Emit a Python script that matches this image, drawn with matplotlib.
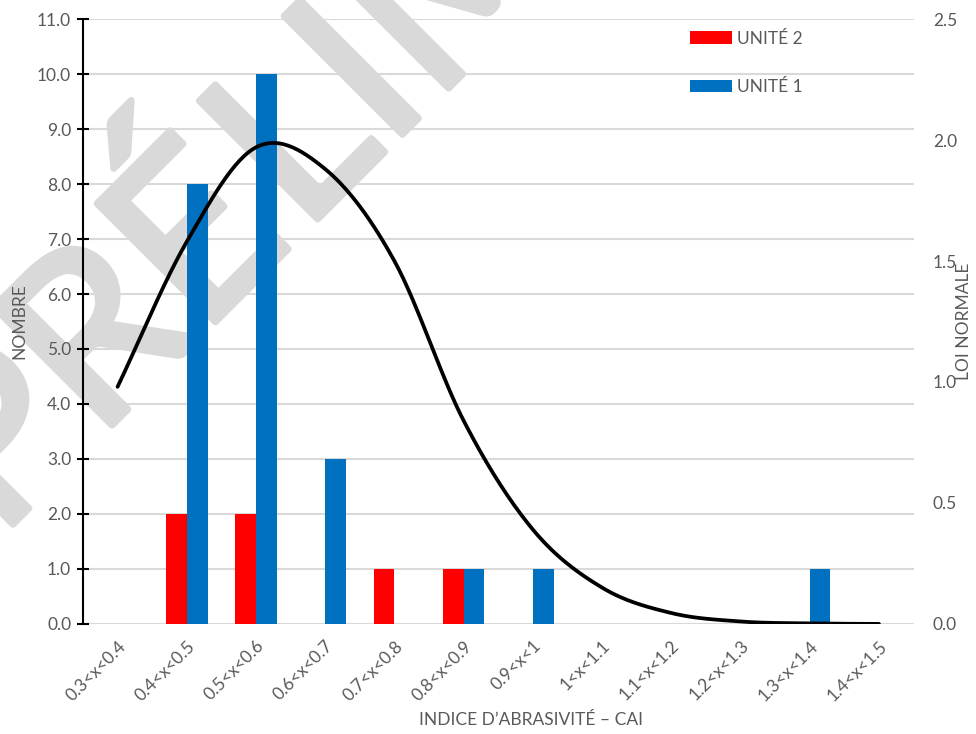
"""
Histogramme de l'indice d'abrasivité (CAI) par unité, avec la loi normale
ajustée sur l'axe secondaire.
"""

import matplotlib
matplotlib.use('Agg')
import matplotlib.pyplot as plt
import matplotlib.patheffects as pe
import numpy as np

plt.rcParams['font.family'] = ['Lato', 'DejaVu Sans']

# classes de l'indice CAI
categories = [
    '0.3<x<0.4', '0.4<x<0.5', '0.5<x<0.6', '0.6<x<0.7', '0.7<x<0.8',
    '0.8<x<0.9', '0.9<x<1', '1<x<1.1', '1.1<x<1.2', '1.2<x<1.3',
    '1.3<x<1.4', '1.4<x<1.5'
]
unite_2 = [0, 2, 2, 0, 1, 1, 0, 0, 0, 0, 0, 0]
unite_1 = [0, 8, 10, 3, 0, 1, 1, 0, 0, 0, 1, 0]
loi_normale = [0.98, 1.58, 1.97, 1.88, 1.50, 0.84, 0.39, 0.15, 0.045,
               0.01, 0.002, 0.0]

left_ticks = np.arange(0, 11.5, 1.0)
right_ticks = np.arange(0, 2.75, 0.5)

GRAY_TXT = '#595959'
GRID = '#d9d9d9'
FS = 12.5


def catmull_rom(x, y, n=30):
    """Smoothed line through the points, like Excel's smoothed line."""
    x = np.asarray(x, dtype=float)
    y = np.asarray(y, dtype=float)
    px = np.concatenate([[2 * x[0] - x[1]], x, [2 * x[-1] - x[-2]]])
    py = np.concatenate([[2 * y[0] - y[1]], y, [2 * y[-1] - y[-2]]])
    xs, ys = [], []
    t = np.linspace(0, 1, n, endpoint=False)
    for i in range(1, len(px) - 2):
        for p, out in ((px, xs), (py, ys)):
            p0, p1, p2, p3 = p[i - 1], p[i], p[i + 1], p[i + 2]
            out.extend(0.5 * ((2 * p1) + (-p0 + p2) * t
                              + (2 * p0 - 5 * p1 + 4 * p2 - p3) * t ** 2
                              + (-p0 + 3 * p1 - 3 * p2 + p3) * t ** 3))
    xs.append(x[-1])
    ys.append(y[-1])
    return np.array(xs), np.array(ys)


fig = plt.figure(figsize=(9.76, 7.34), dpi=100)

# filigrane, en deux morceaux pour caler le "L"
wm = dict(fontsize=168, color=GRID, rotation=45, rotation_mode='anchor',
          va='baseline', zorder=0,
          path_effects=[pe.withStroke(linewidth=5, foreground=GRID)])
fig.text(0.303, 0.671, 'PRÉ', ha='right', **wm)
fig.text(0.310, 0.681, 'LIMINAIRE', ha='left', **wm)

ax = fig.add_axes([0.085, 0.150, 0.851, 0.824])
ax.set_facecolor('none')
ax2 = ax.twinx()
ax2.set_facecolor('none')
ax.set_zorder(1)
ax2.set_zorder(2)

x = np.arange(len(categories))
w = 0.3
ax.bar(x - w / 2, unite_2, width=w, color='#ff0000', label='UNITÉ 2',
       zorder=3)
ax.bar(x + w / 2, unite_1, width=w, color='#0070c0', label='UNITÉ 1',
       zorder=3)

ax.set_xlim(-0.5, len(categories) - 0.5)
ax.set_ylim(0, 11)
ax.set_yticks(left_ticks)
ax.set_yticklabels([f'{v:.1f}' for v in left_ticks])
ax.yaxis.grid(True, color=GRID, linewidth=1.5, zorder=1)
ax.set_axisbelow(True)

ax.set_xticks(x)
ax.set_xticklabels(categories, rotation=45, ha='right',
                   rotation_mode='anchor')
ax.tick_params(axis='x', length=0, pad=10, labelsize=FS,
               labelcolor=GRAY_TXT)
ax.tick_params(axis='y', direction='inout', length=9, width=1.5,
               labelsize=FS, labelcolor=GRAY_TXT, pad=4)

for side in ['top', 'right', 'bottom']:
    ax.spines[side].set_visible(False)
ax.spines['left'].set_linewidth(1.5)

ax.set_ylabel('NOMBRE', fontsize=FS, color=GRAY_TXT, labelpad=7)
ax.set_xlabel('INDICE D\u2019ABRASIVITÉ \u2013 CAI', fontsize=FS,
              color=GRAY_TXT)
ax.xaxis.set_label_coords(0.539, -0.145)

# loi normale sur l'axe secondaire
sx, sy = catmull_rom(x, loi_normale)
ax2.plot(sx, sy, color='black', linewidth=2.7, solid_capstyle='round',
         zorder=4)
ax2.set_ylim(0, 2.5)
ax2.set_yticks(right_ticks)
ax2.set_yticklabels([f'{v:.1f}' for v in right_ticks])
ax2.tick_params(axis='y', length=0, labelsize=FS, labelcolor=GRAY_TXT,
                pad=14)
for side in ['top', 'right', 'bottom', 'left']:
    ax2.spines[side].set_visible(False)
ax2.set_ylabel('LOI NORMALE', fontsize=FS, color=GRAY_TXT, labelpad=-1)

ax.legend(loc='upper left', bbox_to_anchor=(0.707, 0.958),
          bbox_transform=fig.transFigure, frameon=False, fontsize=FS,
          labelcolor=GRAY_TXT, handlelength=2.4, handleheight=0.75,
          handletextpad=0.3, labelspacing=1.85, borderpad=0,
          borderaxespad=0)

fig.savefig('out.png', dpi=100)
